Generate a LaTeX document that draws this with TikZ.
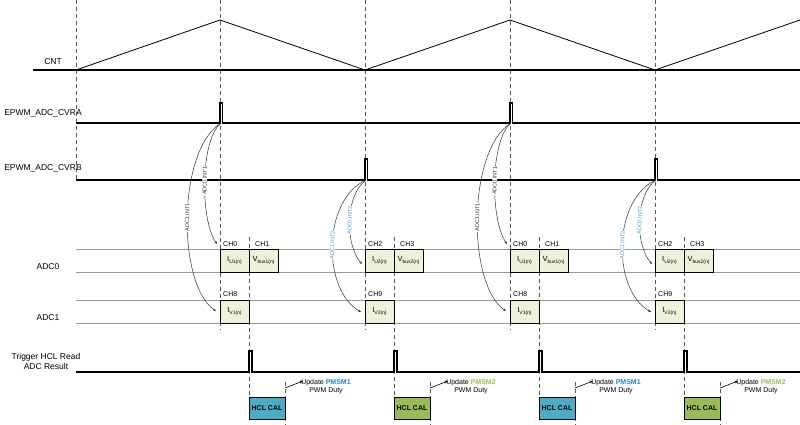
\documentclass[tikz,border=0pt]{standalone}
\usepackage{fontspec}
\setmainfont{Liberation Sans}
\usetikzlibrary{arrows.meta}
\definecolor{cellfill}{HTML}{EEF1DC}
\definecolor{hclblue}{HTML}{4BACC6}
\definecolor{hclgreen}{HTML}{9BBB59}
\definecolor{pmblue}{HTML}{1F86D0}
\definecolor{pmgreen}{HTML}{9BBB59}
\definecolor{intblue}{HTML}{4A9AD8}
\definecolor{intblack}{HTML}{333333}
\definecolor{gridgray}{HTML}{9A9A9A}
\newcommand\sbs[1]{\raisebox{-1.4pt}{\fontsize{5}{5.5}\selectfont #1}}
\begin{document}
\begin{tikzpicture}[x=1pt,y=-1pt,
 wave/.style={line width=1.1pt, black},
 gline/.style={line width=0.8pt, gridgray},
 vdash/.style={line width=0.6pt, gray!70!black, dash pattern=on 4pt off 3pt},
 sig/.style={font=\fontsize{8.5}{10}\selectfont, align=center, inner sep=0pt},
 chl/.style={font=\fontsize{7}{8}\selectfont, anchor=south west, inner sep=0pt},
 cell/.style={draw, line width=0.8pt, fill=cellfill, minimum width=29pt, minimum height=23pt, anchor=north west, inner sep=0pt, outer sep=0pt, font=\fontsize{7.5}{8}\selectfont},
 hcl/.style={draw, line width=0.8pt, minimum width=36pt, minimum height=22pt, anchor=north west, inner sep=0pt, outer sep=0pt, font=\bfseries\fontsize{7}{8}\selectfont},
 arcline/.style={line width=0.5pt, gray!40!black, {Stealth[length=3pt,width=2.4pt]}-},
 intl/.style={font=\fontsize{5.5}{6}\selectfont, fill=white, inner sep=0.4pt, sloped, allow upside down},
 upd/.style={font=\fontsize{7}{8.5}\selectfont, align=center, inner sep=0pt},
 updarrow/.style={line width=0.6pt, -{Stealth[length=3.5pt,width=3pt]}},
]
\useasboundingbox (0,0) rectangle (800,425);

% signal labels
\node[sig] (lcnt) at (53,62) {CNT};
\node[sig] (lcvra) at (43,113) {EPWM\_ADC\_CVRA};
\node[sig] (lcvrb) at (43,168) {EPWM\_ADC\_CVRB};
\node[sig] (ladc0) at (48,267) {ADC0};
\node[sig] (ladc1) at (48,318) {ADC1};
\node[sig] (ltrig) at (46,361) {Trigger HCL Read\\ADC Result};

% grid lines for ADC rows
\draw[gline] (76,249) -- (800,249);
\draw[gline] (76,272) -- (800,272);
\draw[gline] (76,300) -- (800,300);
\draw[gline] (76,323) -- (800,323);

% dashed guides
\draw[vdash] (76,0) -- (76,180);
\foreach \x in {220,365,510,655}{
  \draw[vdash] (\x,0) -- (\x,330);
  \draw[vdash] (\x+29,237) -- (\x+29,397);
  \draw[vdash] (\x+65,382) -- (\x+65,425);
}

% CNT
\draw[wave] (33,70) -- (800,70);
\draw[line width=0.8pt] (76,70) -- (220,20) -- (365,70) -- (510,20) -- (655,70) -- (800,20);

% CVRA / CVRB
\draw[wave] (76,123) -- (220,123) -- (220,103) -- (222.5,103) -- (222.5,123) -- (510,123) -- (510,103) -- (512.5,103) -- (512.5,123) -- (800,123);
\draw[wave] (76,180) -- (365,180) -- (365,159) -- (367.5,159) -- (367.5,180) -- (655,180) -- (655,159) -- (657.5,159) -- (657.5,180) -- (800,180);

% trigger
\draw[wave] (76,372) -- (249,372) -- (249,351) -- (252,351) -- (252,372)
  -- (394,372) -- (394,351) -- (397,351) -- (397,372)
  -- (539,372) -- (539,351) -- (542,351) -- (542,372)
  -- (684,372) -- (684,351) -- (687,351) -- (687,372) -- (800,372);

% per-sample groups
\foreach \x/\id/\n/\ys/\yi/\yo/\ia/\ib/\oa/\ob/\cl/\ca/\cb/\cc/\hc/\pc in {
  220/a/1/123/244/311/220/140/285/150/intblack/0/1/8/hclblue/pmblue,
  365/b/2/180/264/312/245/195/290/200/intblue/2/3/9/hclgreen/pmgreen,
  510/c/1/123/244/311/220/140/285/150/intblack/0/1/8/hclblue/pmblue,
  655/d/2/180/264/312/245/195/290/200/intblue/2/3/9/hclgreen/pmgreen}{
  \node[cell] (u\id) at (\x,249) {I\sbs{U\n(n)}};
  \node[cell] (v\id) at (\x+29,249) {V\sbs{bus\n(n)}};
  \node[cell] (w\id) at (\x,300) {I\sbs{V\n(n)}};
  \node[chl] (cha\id) at (\x+3,247) {CH\ca};
  \node[chl] (chb\id) at (\x+35,247) {CH\cb};
  \node[chl] (chc\id) at (\x+3,297) {CH\cc};
  \coordinate (p\id) at (\x+1,\ys);
  \coordinate (ti\id) at (\x-3,\yi);
  \coordinate (to\id) at (\x-4,\yo);
  \draw[arcline] (ti\id) .. controls (\x-20,\ia) and (\x-20,\ib) .. (p\id)
     node[intl, text=\cl, pos=0.5] (li\id) {ADC0.INT\n};
  \draw[arcline] (to\id) .. controls (\x-43,\oa) and (\x-43,\ob) .. (p\id)
     node[intl, text=\cl, pos=0.5] (lo\id) {ADC1.INT\n};
  \node[hcl, fill=\hc] (h\id) at (\x+29,397) {HCL CAL};
  \coordinate (hs\id) at (\x+65,388);
  \coordinate (he\id) at (\x+83,381);
  \node[upd] (up\id) at (\x+106,386.5) {Update \textbf{\textcolor{\pc}{PMSM\n}}\\PWM Duty};
  \draw[updarrow] (hs\id) -- (he\id);
}
\end{tikzpicture}
\end{document}
